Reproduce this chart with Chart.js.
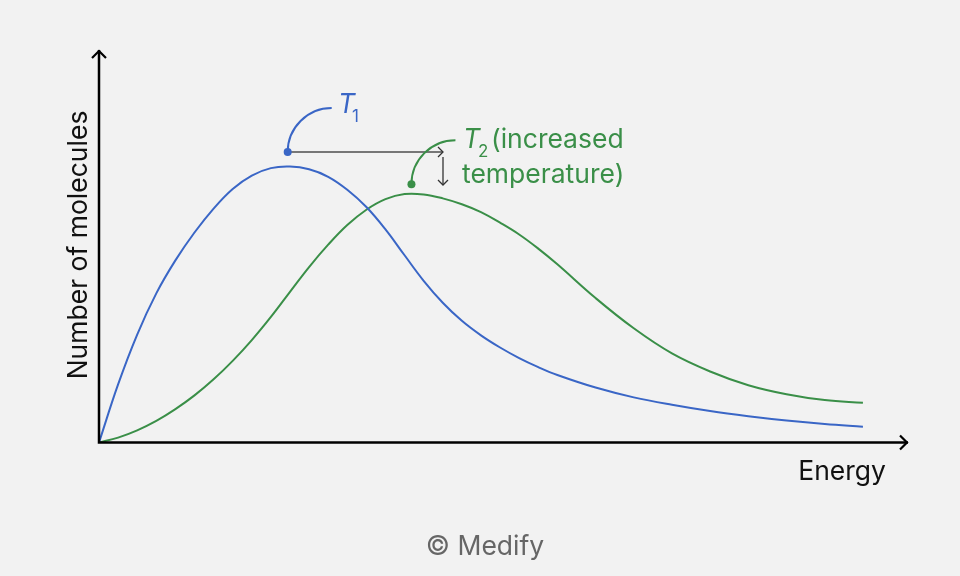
<!DOCTYPE html>
<html>
<head>
<meta charset="utf-8">
<script src="https://cdn.jsdelivr.net/npm/chart.js@4"></script>
<style>
  html, body { margin: 0; padding: 0; background: #f2f2f2; }
  #wrap { width: 960px; height: 576px; }
</style>
</head>
<body>
<div id="wrap"><canvas id="myChart" width="960" height="576"></canvas></div>
<script>
// energy values (x) and number of molecules for each temperature
const energy = [0, 0.25, 0.5, 0.75, 1, 1.25, 1.5, 1.75, 2, 2.25, 2.5, 2.75, 3, 3.25, 3.5, 3.75, 4, 4.25, 4.5, 4.75, 5, 5.25, 5.5, 5.75, 6, 6.5, 7, 7.5, 8, 8.5, 9, 9.5, 10];
const t1Values = [0, 14.8, 27.5, 38.0, 46.4, 53.5, 59.6, 64.6, 68.0, 69.9, 70.3, 69.6, 67.7, 64.4, 60.0, 54.3, 47.7, 41.2, 35.6, 31.0, 27.3, 24.2, 21.5, 19.2, 17.2, 14.0, 11.5, 9.6, 8.0, 6.7, 5.6, 4.7, 4.0];
const t2Values = [0, 1.25, 3.1, 5.5, 8.5, 12.0, 16.1, 20.8, 26.1, 32.0, 38.4, 44.7, 50.4, 55.4, 59.3, 62.0, 63.3, 63.2, 62.2, 60.7, 58.7, 56.0, 53.0, 49.4, 45.4, 36.8, 29.1, 22.7, 18.1, 14.6, 12.3, 10.8, 10.1];
const xTitle = 'Energy';
const yTitle = 'Number of molecules';

const blue = '#3a66c6';
const green = '#3a8f48';
const font = 'Inter, "Liberation Sans", sans-serif';

function pts(vals) {
  return energy.map((e, i) => ({ x: e, y: vals[i] }));
}

function arrowHead(ctx, x, y, dir, size) {
  // chevron pointing in dir ('up','right','down')
  ctx.beginPath();
  if (dir === 'up') { ctx.moveTo(x - size, y + size); ctx.lineTo(x, y); ctx.lineTo(x + size, y + size); }
  if (dir === 'right') { ctx.moveTo(x - size, y - size); ctx.lineTo(x, y); ctx.lineTo(x - size, y + size); }
  if (dir === 'down') { ctx.moveTo(x - size, y - size); ctx.lineTo(x, y); ctx.lineTo(x + size, y - size); }
  ctx.stroke();
}

const drawExtras = {
  id: 'drawExtras',
  beforeDraw(chart) {
    const ctx = chart.ctx;
    ctx.save();
    ctx.fillStyle = '#f2f2f2';
    ctx.fillRect(0, 0, chart.width, chart.height);
    ctx.restore();
  },
  afterDatasetsDraw(chart) {
    const ctx = chart.ctx;
    const a = chart.chartArea;
    const xs = chart.scales.x, ys = chart.scales.y;
    ctx.save();
    // axes
    ctx.strokeStyle = '#000';
    ctx.lineWidth = 2.5;
    ctx.beginPath();
    ctx.moveTo(a.left, a.top);
    ctx.lineTo(a.left, a.bottom);
    ctx.lineTo(a.right, a.bottom);
    ctx.stroke();
    ctx.lineWidth = 2.2;
    arrowHead(ctx, a.left, a.top + 1, 'up', 7);
    arrowHead(ctx, a.right - 1, a.bottom, 'right', 7);

    // axis titles
    ctx.fillStyle = '#111';
    ctx.font = '26.5px ' + font;
    ctx.textAlign = 'right';
    ctx.textBaseline = 'alphabetic';
    ctx.fillText(xTitle, 886, 480);
    ctx.save();
    ctx.translate(87, 245);
    ctx.rotate(-Math.PI / 2);
    ctx.textAlign = 'center';
    ctx.fillText(yTitle, 0, 0);
    ctx.restore();

    // shift arrows
    const bx = xs.getPixelForValue(2.47), by = ys.getPixelForValue(74);
    const gx = xs.getPixelForValue(4.09), gy = ys.getPixelForValue(65.8);
    ctx.strokeStyle = '#777';
    ctx.lineWidth = 2;
    ctx.beginPath();
    ctx.moveTo(bx, by);
    ctx.lineTo(443, by);
    ctx.stroke();
    ctx.strokeStyle = '#333';
    ctx.lineWidth = 1.3;
    arrowHead(ctx, 443, by, 'right', 5);
    ctx.beginPath();
    ctx.moveTo(443, 157);
    ctx.lineTo(443, 185);
    ctx.stroke();
    arrowHead(ctx, 443, 185, 'down', 5);

    // T1 callout
    ctx.strokeStyle = blue;
    ctx.lineWidth = 2;
    ctx.beginPath();
    ctx.arc(bx + 44, by, 44, Math.PI, Math.PI * 1.5);
    ctx.stroke();
    ctx.fillStyle = blue;
    ctx.beginPath();
    ctx.arc(bx, by, 4, 0, Math.PI * 2);
    ctx.fill();
    ctx.textAlign = 'left';
    ctx.font = 'italic 26.5px ' + font;
    ctx.fillText('T', 338, 113);
    ctx.font = '17px ' + font;
    ctx.fillText('1', 352, 122);

    // T2 callout
    ctx.strokeStyle = green;
    ctx.beginPath();
    ctx.arc(gx + 44, gy, 44, Math.PI, Math.PI * 1.5);
    ctx.stroke();
    ctx.fillStyle = green;
    ctx.beginPath();
    ctx.arc(gx, gy, 4, 0, Math.PI * 2);
    ctx.fill();
    ctx.font = 'italic 26.5px ' + font;
    ctx.fillText('T', 463, 148);
    ctx.font = '17px ' + font;
    ctx.fillText('2', 478, 157);
    ctx.font = '26.5px ' + font;
    ctx.fillText('(increased', 491, 148);
    ctx.fillText('temperature)', 462, 183);

    // credit
    ctx.fillStyle = '#666';
    ctx.textAlign = 'center';
    ctx.fillText('\u00a9 Medify', 485, 555);
    ctx.restore();
  }
};

const config = {
  type: 'line',
  data: {
    datasets: [
      { label: 'T1', data: pts(t1Values), borderColor: blue, borderWidth: 2, pointRadius: 0, fill: false, tension: 0.4 },
      { label: 'T2', data: pts(t2Values), borderColor: green, borderWidth: 2, pointRadius: 0, fill: false, tension: 0.4 }
    ]
  },
  options: {
    animation: false,
    responsive: false,
    devicePixelRatio: 1,
    layout: { padding: { left: 99, top: 50, right: 52, bottom: 133.5 } },
    scales: {
      x: { type: 'linear', min: 0, max: 10.59, display: false },
      y: { min: 0, max: 100, display: false }
    },
    plugins: {
      legend: { display: false },
      tooltip: { enabled: false }
    }
  },
  plugins: [drawExtras]
};

let myChart = new Chart(document.getElementById('myChart'), config);
</script>
</body>
</html>
